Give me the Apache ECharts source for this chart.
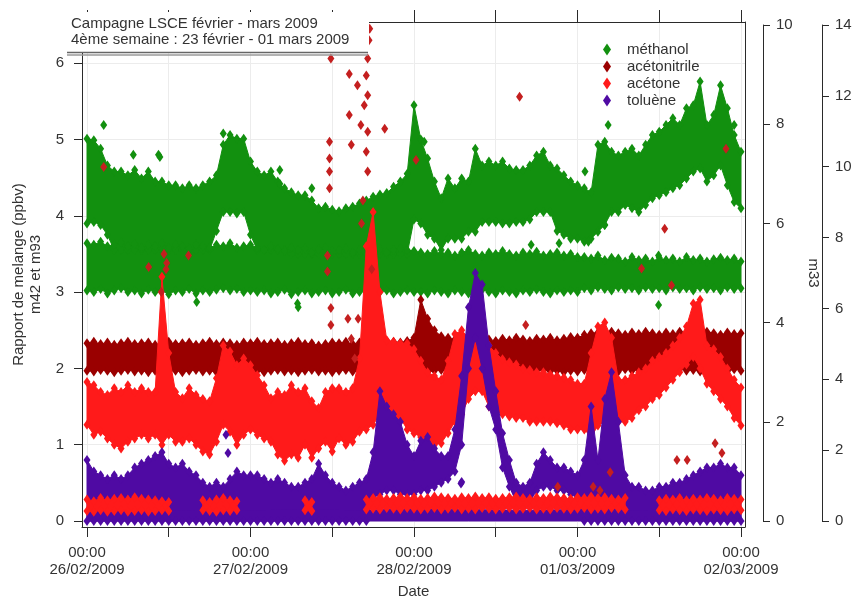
<!DOCTYPE html>
<html><head><meta charset="utf-8">
<script src="https://cdn.jsdelivr.net/npm/echarts@6/dist/echarts.min.js"></script>
<style>html,body{margin:0;padding:0;background:#fff}#c{width:858px;height:599px}</style>
</head><body><div id="c"></div>
<script>
// ---- time grid (hours since 26/02/2009 00:00) ----
const HOURS = [0,1,2,3,4,5,6,7,8,9,10,11,12,13,14,15,16,17,18,19,20,21,22,23,24,25,26,27,28,29,30,31,32,33,34,35,36,37,38,39,40,41,42,43,44,45,46,47,48,49,50,51,52,53,54,55,56,57,58,59,60,61,62,63,64,65,66,67,68,69,70,71,72,73,74,75,76,77,78,79,80,81,82,83,84,85,86,87,88,89,90,91,92,93,94,95,96];
const X_TICKS = [0,12,24,36,48,60,72,84,96];
const X_LABEL_HOURS = [0,24,48,72,96];
const X_LABEL_TEXT = ['00:00\n26/02/2009','00:00\n27/02/2009','00:00\n28/02/2009','00:00\n01/03/2009','00:00\n02/03/2009'];
const Y_TICKS = [0,1,2,3,4,5,6];
const LEGEND = ['méthanol','acétonitrile','acétone','toluène'];

// ---- méthanol: upper (variable) band and lower (flat) band ----
const MU_HI = [5.01,4.99,4.88,4.66,4.58,4.58,4.53,4.60,4.49,4.58,
4.45,4.45,4.40,4.40,4.36,4.40,4.36,4.40,4.45,4.53,
4.93,5.06,5.01,5.01,4.71,4.58,4.53,4.58,4.45,4.36,
4.31,4.27,4.27,4.20,4.10,4.12,4.08,4.06,4.10,4.12,
4.16,4.20,4.25,4.28,4.30,4.38,4.45,4.55,5.45,5.00,
4.75,4.45,4.23,4.49,4.36,4.49,4.45,4.88,4.66,4.71,
4.66,4.71,4.62,4.60,4.60,4.66,4.79,4.84,4.66,4.62,
4.53,4.45,4.40,4.36,4.31,4.93,4.97,4.84,4.79,4.84,
4.88,4.79,4.93,5.06,5.10,5.19,5.28,5.19,5.41,5.45,
5.76,5.19,5.32,5.71,5.41,5.06,4.84];
const MU_LO = [3.90,3.92,3.88,3.75,3.55,3.55,3.55,3.55,3.55,3.55,
3.55,3.55,3.55,3.55,3.55,3.55,3.55,3.55,3.55,3.80,
4.05,4.05,4.03,4.05,3.75,3.55,3.55,3.55,3.55,3.55,
3.50,3.50,3.50,3.50,3.50,3.50,3.50,3.50,3.50,3.50,
3.50,3.50,3.50,3.50,3.50,3.50,3.50,3.50,3.95,3.90,
3.75,3.70,3.55,3.70,3.70,3.70,3.79,3.79,3.92,3.92,
3.92,3.90,3.90,3.92,3.92,3.95,4.05,4.05,4.05,3.80,
3.75,3.70,3.70,3.66,3.70,3.79,3.88,4.05,4.05,4.14,
4.10,4.05,4.14,4.23,4.27,4.31,4.36,4.40,4.49,4.58,
4.62,4.45,4.53,4.66,4.40,4.18,4.10];
const ML_HI = [3.64,3.62,3.66,3.60,3.62,3.65,3.60,3.63,3.58,3.62,3.60,3.64,3.58,3.62,3.60,3.57,3.62,3.60,3.58,3.62,3.60,3.64,3.58,3.60,3.62,
3.58,3.55,3.60,3.56,3.54,3.58,3.55,3.57,3.52,3.56,3.58,3.54,3.55,3.57,3.52,3.55,3.58,3.54,3.56,3.52,3.55,3.57,3.55,3.54,
3.52,3.50,3.54,3.50,3.52,3.48,3.52,3.55,3.50,3.48,3.52,3.50,3.54,3.50,3.48,3.52,3.50,3.53,3.48,3.50,3.52,3.48,3.50,3.46,
3.46,3.44,3.48,3.42,3.45,3.44,3.40,3.46,3.42,3.44,3.40,3.45,3.42,3.44,3.40,3.46,3.42,3.44,3.40,3.43,3.45,3.42,3.44,3.40];
const ML_LO = [3.02,3.00,3.04,2.98,3.02,3.05,3.00,3.02,2.98,3.03,3.00,3.02,2.97,3.02,3.00,3.04,2.98,3.02,3.00,3.03,3.05,3.02,3.04,3.00,3.02,
3.00,3.02,2.98,3.00,3.03,2.97,3.00,3.02,2.98,3.00,3.02,2.98,3.00,3.03,2.98,3.00,3.02,2.97,3.00,3.02,2.98,3.00,3.02,3.00,
3.00,2.98,3.02,3.00,2.98,3.02,3.00,2.98,3.00,3.03,3.00,2.98,3.02,3.00,2.98,3.02,3.00,3.03,3.00,2.98,3.02,3.00,3.02,3.00,
3.05,3.02,3.06,3.04,3.02,3.06,3.04,3.05,3.02,3.06,3.04,3.05,3.02,3.06,3.04,3.05,3.02,3.06,3.04,3.05,3.02,3.06,3.04,3.05];

// ---- acétonitrile ----
const AN_HI = [2.33,2.35,2.32,2.34,2.31,2.33,2.35,2.32,2.33,2.34,2.31,2.33,2.35,2.32,2.33,2.34,2.31,2.33,2.35,2.32,2.34,2.33,2.31,2.34,2.33,
2.35,2.32,2.33,2.34,2.31,2.33,2.35,2.32,2.33,2.30,2.32,2.34,2.33,2.35,2.32,2.34,2.36,2.35,2.34,2.36,2.35,2.34,2.36,2.40,
2.90,2.65,2.50,2.42,2.40,2.38,2.40,2.38,2.37,2.40,2.38,2.36,2.39,2.37,2.40,2.38,2.36,2.39,2.38,2.40,2.37,2.39,2.41,2.40,
2.44,2.46,2.47,2.45,2.48,2.46,2.44,2.47,2.45,2.48,2.46,2.44,2.47,2.45,2.48,2.46,2.47,2.45,2.48,2.46,2.44,2.47,2.45,2.46];
const AN_LO = [1.97,1.96,1.98,1.97,1.95,1.97,1.98,1.96,1.97,1.95,1.97,1.98,1.96,1.97,1.95,1.97,1.98,1.96,1.97,1.95,1.97,1.98,1.96,1.97,1.96,
1.97,1.95,1.97,1.98,1.96,1.97,1.95,1.97,1.98,1.96,1.97,1.95,1.97,1.98,1.96,1.97,1.95,1.97,1.98,1.96,1.97,1.95,1.97,1.96,
1.97,1.95,1.97,1.98,1.96,1.97,1.95,1.97,1.98,1.96,1.97,1.95,1.97,1.98,1.96,1.97,1.95,1.97,1.98,1.96,1.97,1.95,1.97,1.96,
1.98,1.96,1.99,1.97,1.98,1.96,1.99,1.97,1.98,1.96,1.99,1.97,1.98,1.96,1.99,1.97,1.98,1.96,1.99,1.97,1.98,1.96,1.99,1.97];

// ---- acétone: main band and low band ----
const AC_HI = [1.82,1.78,1.69,1.65,1.74,1.69,1.78,1.69,1.74,1.69,
1.69,3.20,2.20,1.69,1.61,1.74,1.65,1.60,1.57,1.87,
2.30,2.22,2.04,2.13,2.04,1.91,1.78,1.61,1.69,1.65,
1.78,1.69,1.74,1.57,1.48,1.69,1.74,1.74,1.69,1.74,
2.13,3.60,4.05,3.00,2.37,2.35,2.33,2.33,2.25,2.10,
1.95,1.90,1.85,2.10,2.45,2.50,2.40,2.40,2.40,2.30,
2.20,2.12,2.08,2.05,2.00,1.98,1.95,1.95,1.92,1.90,
1.88,1.85,1.80,1.80,2.20,2.55,2.60,2.40,1.85,1.85,
1.90,1.95,2.00,2.10,2.15,2.20,2.30,2.40,2.55,2.85,
2.90,2.30,2.25,2.15,2.00,1.85,1.75];
const AC_LO = [1.26,1.13,1.17,1.08,1.00,0.95,1.04,1.08,1.13,1.08,
1.13,1.00,1.13,1.04,1.04,1.08,1.00,0.91,0.87,1.04,
1.26,1.17,1.00,1.13,1.20,1.13,1.08,1.04,0.87,0.79,
0.87,0.83,1.00,0.83,0.95,1.04,0.91,1.08,1.00,1.04,
1.17,1.20,1.26,1.40,1.40,1.37,1.35,1.20,1.15,1.10,
1.05,1.00,1.02,1.15,1.30,1.40,1.60,1.70,1.70,1.50,
1.45,1.40,1.37,1.35,1.35,1.30,1.30,1.30,1.30,1.28,
1.25,1.20,1.20,1.20,1.10,1.25,1.30,1.30,1.30,1.30,
1.35,1.45,1.50,1.60,1.65,1.75,1.85,1.95,2.05,2.15,
2.00,1.80,1.70,1.60,1.50,1.35,1.25];
const ACL_HI = [0.28,0.26,0.30,0.27,0.29,0.30,0.28,0.31,0.29,0.28,0.27,0.26,0.25,
null,null,null,null,
0.27,0.25,0.28,0.30,0.27,0.26,
null,null,null,null,null,null,null,null,null,
0.27,0.25,
null,null,null,null,null,null,null,
0.28,0.30,0.31,0.29,0.30,0.32,0.30,0.31,0.29,0.30,0.32,0.31,0.30,0.29,0.31,0.30,0.32,0.30,0.31,0.29,0.30,0.31,0.32,0.30,0.29,0.31,0.30,0.32,0.31,0.30,0.29,0.31,0.30,0.32,0.30,0.31,0.29,0.28,0.30,
null,null,null,null,
0.27,0.29,0.28,0.30,0.27,0.29,0.28,0.30,0.29,0.27,0.30,0.29,0.28];
const ACL_LO = [0.13,0.12,0.14,0.12,0.13,0.14,0.12,0.13,0.14,0.12,0.13,0.14,0.13,
null,null,null,null,
0.14,0.13,0.12,0.14,0.13,0.14,
null,null,null,null,null,null,null,null,null,
0.14,0.13,
null,null,null,null,null,null,null,
0.15,0.16,0.15,0.17,0.16,0.15,0.17,0.16,0.15,0.16,0.17,0.15,0.16,0.17,0.15,0.16,0.15,0.17,0.16,0.15,0.16,0.17,0.15,0.16,0.17,0.15,0.16,0.15,0.17,0.16,0.15,0.16,0.17,0.15,0.16,0.15,0.17,0.16,0.15,
null,null,null,null,
0.14,0.13,0.15,0.14,0.13,0.15,0.14,0.13,0.15,0.14,0.13,0.15,0.14];

// ---- toluène: main band and bottom strip ----
const TOL_HI = [0.80,0.65,0.60,0.55,0.60,0.55,0.60,0.70,0.75,0.80,
0.85,0.90,0.75,0.70,0.75,0.65,0.60,0.50,0.45,0.50,
0.45,0.55,0.65,0.60,0.60,0.60,0.55,0.50,0.55,0.50,
0.45,0.45,0.50,0.55,0.75,0.60,0.50,0.45,0.40,0.45,
0.50,0.55,0.90,1.70,1.50,1.40,1.30,1.00,0.85,1.05,
1.10,0.95,0.85,0.85,1.20,1.90,2.80,3.25,3.10,2.30,
1.70,1.15,0.80,0.50,0.45,0.50,0.75,0.90,0.80,0.70,
0.70,0.65,0.60,0.80,1.50,0.80,1.60,1.95,1.30,0.60,
0.45,0.45,0.40,0.40,0.45,0.45,0.50,0.50,0.55,0.60,
0.65,0.70,0.70,0.75,0.70,0.70,0.60];
const TOL_LO = [0,0,0,0,0,0,0,0,0,0,0,0,0,0,0,0,0,0,0,0,0,0,0,0,0,0,0,0,0,0,0,0,0,0,0,0,0,0,0,0,0,0,
0.30,0.35,0.40,0.40,0.35,0.35,0.35,0.40,0.40,0.45,0.50,0.55,0.65,1.00,2.00,2.40,2.00,1.50,1.20,0.70,0.45,0.25,0.22,0.25,0.40,0.45,0.45,0.40,0.40,0.35,0.30,
0,0,0,0,0,0,0,0,0,0,0,0,0,0,0,0,0,0,0,0,0,0,0,0];
const TB_HOURS = [0,8,16,24,32,40,48,56,64,72,80,88,96];
const TB_HI = [0.14,0.15,0.13,0.14,0.15,0.14,0.16,0.15,0.14,0.15,0.14,0.15,0.14];
const TB_LO = [0,0,0,0,0,0,0,0,0,0,0,0,0];

// ---- isolated points [hour, value] ----
const METH_OUT = [[2.45,5.19],[10.5,4.8],[6.8,4.8],[10.7,4.77],[20,5.08],[28.3,4.6],[28.3,4.42],[33,4.36],[31,2.8],[16.1,2.87],[30.9,2.85],[49.5,4.97],[65.2,3.62],[69.3,3.64],[73.1,4.58],[73.6,3.66],[76,3.88],[76.5,5.19],[83.9,3.48],[83.9,2.83],[95,5.19]];
const ACE_OUT = [[35.8,6.06],[38.5,5.86],[39.7,5.71],[41.0,5.84],[41.2,5.58],[40.7,5.45],[38.5,5.32],[40.2,5.19],[41.2,5.1],[43.7,5.14],[35.6,4.97],[35.6,4.75],[35.6,4.58],[35.6,4.36],[38.8,4.93],[41,4.84],[41.2,4.58],[41.2,6.06],[41.4,6.3],[41.5,6.45],[35.3,3.48],[35.3,3.27],[35.8,2.79],[35.8,2.57],[38.3,2.65],[38.8,2.39],[39.3,2.13],[39.8,2.65],[40.5,4.2],[40.3,3.9],[41.8,3.3],[11.3,3.5],[11.6,3.3],[10.9,3.0],[63.5,5.56],[64.4,2.57],[81.4,3.31],[84.8,3.83],[85.8,3.09],[93.8,4.88],[2.45,4.64],[9.05,3.33],[11.7,3.38],[14.9,3.48],[48.3,4.73],[69.1,0.45],[74.3,0.45],[75.3,0.4],[76.8,0.64],[86.6,0.8],[88.1,0.8],[92.2,1.02],[93.2,0.89]];
const TOL_OUT = [[20.7,0.89],[20.4,1.13],[54.9,0.49],[55,0.51]];

const C_METH = '#12900f', C_ACN = '#9a0000', C_ACE = '#ff1a1a', C_TOL = '#4f0aa3', C_ACE_OUT = '#c41f1f';

function runsOf(hi, lo){
  const runs = []; let cur = null;
  for (let i = 0; i < hi.length; i++) {
    if (hi[i] == null || lo[i] == null) { cur = null; continue; }
    if (!cur) { cur = []; runs.push(cur); }
    cur.push(i);
  }
  return runs;
}
function bandSeries(name, color, times, hi, lo, z){
  const runs = runsOf(hi, lo);
  return {
    type: 'custom', name: name, coordinateSystem: 'cartesian2d', xAxisIndex: 0, yAxisIndex: 0,
    z: z, silent: true, itemStyle: {color: color},
    data: runs.map(r => [times[r[0]], hi[r[0]]]),
    encode: {x: 0, y: 1},
    renderItem: function(params, api){
      const r = runs[params.dataIndex];
      const pts = r.map(i => api.coord([times[i], hi[i]]));
      for (let k = r.length - 1; k >= 0; k--) pts.push(api.coord([times[r[k]], lo[r[k]]]));
      return {type: 'polygon', shape: {points: pts}, style: {fill: color, stroke: color, lineWidth: 1}};
    }
  };
}
function edgeSeries(name, color, times, arrs, z){
  const data = [];
  arrs.forEach(a => a.forEach((v, i) => { if (v != null) data.push([times[i], v]); }));
  return {type: 'scatter', name: name, data: data, symbol: 'diamond', symbolSize: [7, 10],
    itemStyle: {color: color, opacity: 1}, z: z, silent: true, xAxisIndex: 0, yAxisIndex: 0};
}
function pointSeries(name, color, pts, z){
  return {type: 'scatter', name: name, data: pts, symbol: 'diamond', symbolSize: [7, 10],
    itemStyle: {color: color, opacity: 1}, z: z, silent: true, xAxisIndex: 0, yAxisIndex: 0};
}

const FONT = '"Liberation Sans", Arial, sans-serif';
const AX = '#2a2a2a';
const XMIN = -0.734, XMAX = 96.59, YMIN = -0.079, YMAX = 6.54;

const chart = echarts.init(document.getElementById('c'), null, {renderer: 'canvas'});
chart.setOption({
  animation: false,
  backgroundColor: '#fff',
  textStyle: {fontFamily: FONT},
  grid: [
    {left: 82, right: 113, top: 22, bottom: 72, containLabel: false, outerBoundsMode: 'none'},
    {left: 82, right: 113, top: 25, bottom: 78, containLabel: false, outerBoundsMode: 'none'}
  ],
  legend: {
    data: LEGEND, orient: 'vertical', left: 598, top: 37, icon: 'diamond',
    itemWidth: 8, itemHeight: 12, itemGap: 2,
    textStyle: {fontSize: 15, color: '#333', fontFamily: FONT, padding: [0, 0, 0, 11]},
    selectedMode: false
  },
  xAxis: [
    {gridIndex: 0, type: 'value', min: XMIN, max: XMAX, position: 'bottom',
     axisLine: {show: true, onZero: false, lineStyle: {color: AX, width: 1}},
     axisTick: {show: true, inside: false, length: 10, customValues: X_TICKS, lineStyle: {color: AX}},
     axisLabel: {show: true, customValues: X_LABEL_HOURS, margin: 17, fontSize: 15, color: '#333', lineHeight: 17, fontFamily: FONT,
       formatter: function(v){ const k = X_LABEL_HOURS.indexOf(Math.round(v)); return k >= 0 ? X_LABEL_TEXT[k] : ''; }},
     splitLine: {show: true, lineStyle: {color: '#ececec', width: 1}},
     name: 'Date', nameLocation: 'middle', nameGap: 57, nameTextStyle: {fontSize: 15, color: '#333', fontFamily: FONT}},
    {gridIndex: 0, type: 'value', min: XMIN, max: XMAX, position: 'top',
     axisLine: {show: true, onZero: false, lineStyle: {color: AX, width: 1}},
     axisTick: {show: true, inside: false, length: 12, customValues: X_TICKS, lineStyle: {color: AX}},
     axisLabel: {show: false}, splitLine: {show: false}},
    {gridIndex: 1, type: 'value', min: 0, max: 1, show: false}
  ],
  yAxis: [
    {gridIndex: 0, type: 'value', min: YMIN, max: YMAX, position: 'left',
     axisLine: {show: true, onZero: false, lineStyle: {color: AX, width: 1}},
     axisTick: {show: true, inside: false, length: 8, customValues: Y_TICKS, lineStyle: {color: AX}},
     axisLabel: {show: true, customValues: Y_TICKS, margin: 18, fontSize: 15, color: '#333', fontFamily: FONT},
     splitLine: {show: true, lineStyle: {color: '#ececec', width: 1}},
     name: 'Rapport de melange (ppbv)\nm42 et m93', nameLocation: 'middle', nameGap: 38,
     nameTextStyle: {fontSize: 15, color: '#333', lineHeight: 17, fontFamily: FONT}},
    {gridIndex: 0, type: 'value', min: YMIN, max: YMAX, position: 'right',
     axisLine: {show: true, onZero: false, lineStyle: {color: AX, width: 1}},
     axisTick: {show: false}, axisLabel: {show: false}, splitLine: {show: false}},
    {gridIndex: 1, type: 'value', min: 0, max: 10, interval: 2, position: 'right', offset: 18,
     axisLine: {show: true, onZero: false, lineStyle: {color: AX, width: 1}},
     axisTick: {show: true, inside: false, length: 7, lineStyle: {color: AX}},
     axisLabel: {show: true, margin: 13, fontSize: 15, color: '#333', fontFamily: FONT},
     splitLine: {show: false},
     name: 'm33', nameLocation: 'middle', nameRotate: -90, nameGap: 43,
     nameTextStyle: {fontSize: 15, color: '#333', fontFamily: FONT}},
    {gridIndex: 1, type: 'value', min: 0, max: 14, interval: 2, position: 'right', offset: 77,
     axisLine: {show: true, onZero: false, lineStyle: {color: AX, width: 1}},
     axisTick: {show: true, inside: false, length: 7, lineStyle: {color: AX}},
     axisLabel: {show: true, margin: 13, fontSize: 15, color: '#333', fontFamily: FONT},
     splitLine: {show: false}}
  ],
  series: [
    edgeSeries(LEGEND[0], C_METH, HOURS, [MU_HI, MU_LO, ML_HI, ML_LO], 3),
    bandSeries(LEGEND[0], C_METH, HOURS, MU_HI, MU_LO, 3),
    bandSeries(LEGEND[0], C_METH, HOURS, ML_HI, ML_LO, 3),
    edgeSeries(LEGEND[1], C_ACN, HOURS, [AN_HI, AN_LO], 4),
    bandSeries(LEGEND[1], C_ACN, HOURS, AN_HI, AN_LO, 4),
    edgeSeries(LEGEND[2], C_ACE, HOURS, [AC_HI, AC_LO], 5),
    bandSeries(LEGEND[2], C_ACE, HOURS, AC_HI, AC_LO, 5),
    edgeSeries(LEGEND[3], C_TOL, HOURS, [TOL_HI, TOL_LO], 6),
    bandSeries(LEGEND[3], C_TOL, HOURS, TOL_HI, TOL_LO, 6),
    bandSeries(LEGEND[3], C_TOL, TB_HOURS, TB_HI, TB_LO, 6),
    edgeSeries(LEGEND[2], C_ACE, HOURS, [ACL_HI, ACL_LO], 7),
    bandSeries(LEGEND[2], C_ACE, HOURS, ACL_HI, ACL_LO, 7),
    pointSeries(LEGEND[0], C_METH, METH_OUT, 8),
    pointSeries(LEGEND[2], C_ACE_OUT, ACE_OUT, 8),
    pointSeries(LEGEND[3], C_TOL, TOL_OUT, 8)
  ],
  graphic: [
    {type: 'rect', shape: {x: 67, y: 12, width: 302, height: 41}, style: {fill: '#fff'}, z: 100, silent: true},
    {type: 'text', x: 71, y: 23.5, z: 101, silent: true,
     style: {text: 'Campagne LSCE février - mars 2009', font: '15px ' + FONT, fill: '#333', verticalAlign: 'middle'}},
    {type: 'text', x: 71, y: 40, z: 101, silent: true,
     style: {text: '4ème semaine : 23 février - 01 mars 2009', font: '15px ' + FONT, fill: '#333', verticalAlign: 'middle'}},
    {type: 'line', shape: {x1: 67, y1: 52.5, x2: 368, y2: 52.5}, style: {stroke: '#666', lineWidth: 1.5}, z: 101, silent: true},
    {type: 'line', shape: {x1: 67, y1: 55, x2: 368, y2: 55}, style: {stroke: '#9a9a9a', lineWidth: 1.5}, z: 101, silent: true}
  ]
});
</script>
</body></html>
